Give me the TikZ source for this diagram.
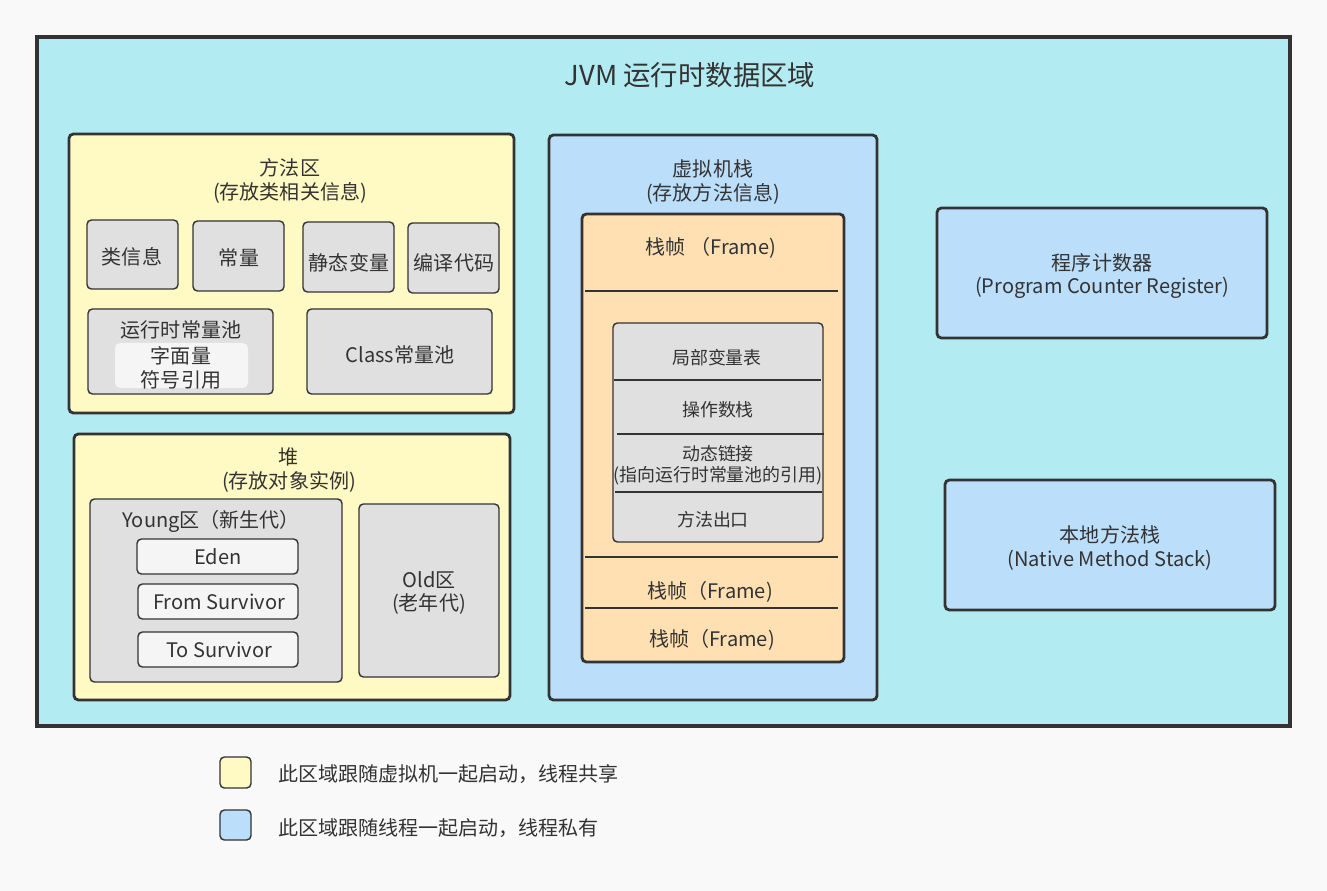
\documentclass[tikz,border=0pt]{standalone}
\usepackage{fontspec}
\setmainfont{Noto Sans CJK SC}
\usetikzlibrary{positioning}

\definecolor{pagebg}{HTML}{F9F9F9}
\definecolor{areacyan}{HTML}{B2EBF2}
\definecolor{sharedyellow}{HTML}{FFF9C4}
\definecolor{privateblue}{HTML}{BBDEFB}
\definecolor{frameorange}{HTML}{FFE0B2}
\definecolor{itemgray}{HTML}{E0E0E0}
\definecolor{itemlight}{HTML}{F5F5F5}
\definecolor{inkgray}{HTML}{333333}

\tikzset{
  region/.style={draw=inkgray, line width=1.6pt, rounded corners=2.5pt},
  item/.style={draw=inkgray, line width=0.8pt, rounded corners=2.5pt, fill=itemgray},
  sep/.style={draw=inkgray, line width=0.8pt},
  label/.style={text=inkgray, align=center, inner sep=0pt, font=\fontsize{11.4}{13.4}\selectfont},
  small/.style={label, font=\fontsize{10.2}{12.2}\selectfont}
}

\begin{document}
\begin{tikzpicture}[x=0.02cm, y=-0.02cm]
    \useasboundingbox (0,0) rectangle (1327,891);
    \fill [pagebg] (0,0) rectangle (1327,891);
    % runtime data area
    \draw [fill=areacyan, draw=inkgray, line width=1.8pt] (37,37) rectangle (1290,726);
    \node [label, font=\fontsize{15.6}{18}\selectfont] (title) at (690,75) {JVM 运行时数据区域};

    % method area
    \draw [region, fill=sharedyellow] (69,134) rectangle (514,413);
    \node [label] (methodarea) at (290,181) {方法区\\(存放类相关信息)};
    \draw [item] (87,220) rectangle (178,289);
    \node [label] (classinfo) at (132,257) {类信息};
    \draw [item] (193,221) rectangle (284,291);
    \node [label] (constant) at (239,258) {常量};
    \draw [item] (303,222) rectangle (394,292);
    \node [label] (staticvar) at (349,263) {静态变量};
    \draw [item] (408,223) rectangle (499,293);
    \node [label] (compiled) at (454,263) {编译代码};
    \draw [item] (88,309) rectangle (273,394);
    \node [label] (runtimepool) at (181,330) {运行时常量池};
    \fill [itemlight, rounded corners=3pt] (115,343) rectangle (248,388);
    \node [label] (literal) at (181,368) {字面量\\符号引用};
    \draw [item] (307,309) rectangle (492,394);
    \node [label] (classpool) at (400,355) {Class常量池};

    % heap
    \draw [region, fill=sharedyellow] (74,434) rectangle (510,700);
    \node [label] (heap) at (289,470) {堆\\(存放对象实例)};
    \draw [item] (90,499) rectangle (342,682);
    \node [label] (young) at (211,521) {Young区（新生代）};
    \draw [item, fill=itemlight] (137,539) rectangle (298,574);
    \node [label] (eden) at (218,557) {Eden};
    \draw [item, fill=itemlight] (138,584) rectangle (298,619);
    \node [label] (fromsurv) at (219,602) {From Survivor};
    \draw [item, fill=itemlight] (138,632) rectangle (298,667);
    \node [label] (tosurv) at (219,650) {To Survivor};
    \draw [item] (359,504) rectangle (499,677);
    \node [label] (old) at (429,593) {Old区\\(老年代)};

    % vm stack
    \draw [region, fill=privateblue] (549,135) rectangle (877,700);
    \node [label] (vmstack) at (713,182) {虚拟机栈\\(存放方法信息)};
    \draw [region, fill=frameorange] (582,214) rectangle (844,662);
    \node [label] (frametop) at (711,248) {栈帧 （Frame)};
    \draw [sep] (585,291) -- (838,291);
    \draw [item] (613,323) rectangle (823,542);
    \node [small] (localvars) at (717,358) {局部变量表};
    \draw [sep] (614,380) -- (821,380);
    \node [small] (operands) at (718,410) {操作数栈};
    \draw [sep] (617,434) -- (824,434);
    \node [small] (dynlink) at (718,465) {动态链接\\(指向运行时常量池的引用)};
    \draw [sep] (615,492) -- (822,492);
    \node [small] (methodexit) at (713,520) {方法出口};
    \draw [sep] (585,557) -- (838,557);
    \node [label] (framemid) at (710,592) {栈帧（Frame)};
    \draw [sep] (585,608) -- (838,608);
    \node [label] (framelow) at (712,640) {栈帧（Frame)};

    % pc register and native stack
    \draw [region, fill=privateblue] (937,208) rectangle (1267,338);
    \node [label] (pcreg) at (1102,276) {程序计数器\\(Program Counter Register)};
    \draw [region, fill=privateblue] (945,480) rectangle (1275,610);
    \node [label] (native) at (1110,548) {本地方法栈\\(Native Method Stack)};

    % legend
    \draw [item, fill=sharedyellow] (220,757) rectangle (251,788);
    \node [label, anchor=west] (sharedkey) at (278,774) {此区域跟随虚拟机一起启动，线程共享};
    \draw [item, fill=privateblue] (220,810) rectangle (251,840);
    \node [label, anchor=west] (privatekey) at (278,828) {此区域跟随线程一起启动，线程私有};
\end{tikzpicture}
\end{document}
